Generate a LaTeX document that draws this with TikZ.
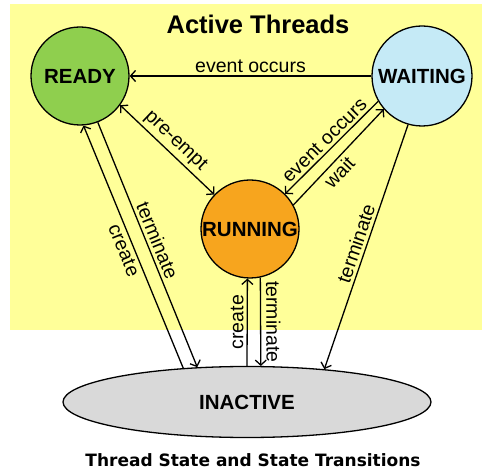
\documentclass[tikz,border=0pt]{standalone}
\usepackage{fontspec}
\setmainfont{Liberation Sans}
\newfontfamily\capfont{DejaVu Sans}
\usepackage{tikz}
\usetikzlibrary{shapes.geometric, arrows.meta, positioning}
\definecolor{activebg}{HTML}{FFFF99}
\definecolor{readygreen}{HTML}{8FCF4E}
\definecolor{waitblue}{HTML}{C5EAF6}
\definecolor{runorange}{HTML}{F7A51E}
\definecolor{idlegray}{HTML}{D9D9D9}
\tikzset{waitlbl/.style={below, pos=0.42}, farlbl/.style={above, inner sep=5pt}}

\begin{document}
\begin{tikzpicture}[x=1pt, y=-1pt, line width=1.3pt, >={Straight Barb[length=5pt,width=11pt]}, font=\fontsize{19.5}{21}\selectfont]
\useasboundingbox (0,0) rectangle (482,470);
\fill[activebg] (10,4) rectangle (482,330);
\node[font=\fontsize{25.5}{28}\selectfont\bfseries] (title) at (258,24) {Active Threads};
\node[circle, draw, fill=readygreen, minimum size=98pt, inner sep=0pt, font=\fontsize{20.5}{22}\selectfont\bfseries] (ready) at (80,76) {READY};
\node[circle, draw, fill=waitblue, minimum size=100pt, inner sep=0pt, font=\fontsize{20.5}{22}\selectfont\bfseries] (waiting) at (422,76) {WAITING};
\node[circle, draw, fill=runorange, minimum size=98pt, inner sep=0pt, font=\fontsize{20.5}{22}\selectfont\bfseries] (running) at (250,229) {RUNNING};
\node[ellipse, draw, fill=idlegray, minimum width=368pt, minimum height=71pt, inner sep=0pt, font=\fontsize{20.5}{22}\selectfont\bfseries] (inactive) at (247,402) {INACTIVE};
\node[font=\capfont\fontsize{17}{19}\selectfont\bfseries] (caption) at (253,460) {Thread State and State Transitions};
\foreach \a/\b/\t/\p/\s in {waiting/ready/event occurs/above/->, ready.-36/running.136/pre-empt/above/<->, waiting.-150/running.45/event occurs/above/->, running.29.5/waiting.-139/wait/waitlbl/->, inactive.152/ready.-86.6/create/below/->, ready.-69/inactive.145/terminate/above/->, inactive.90/running.-93.5/create/above/->, running.-78.5/inactive.69.8/terminate/farlbl/->, waiting.-106/inactive.23.4/terminate/above/->}
\draw[\s] (\a) -- node[sloped, inner sep=3pt, \p] {\t} (\b);
\end{tikzpicture}
\end{document}
